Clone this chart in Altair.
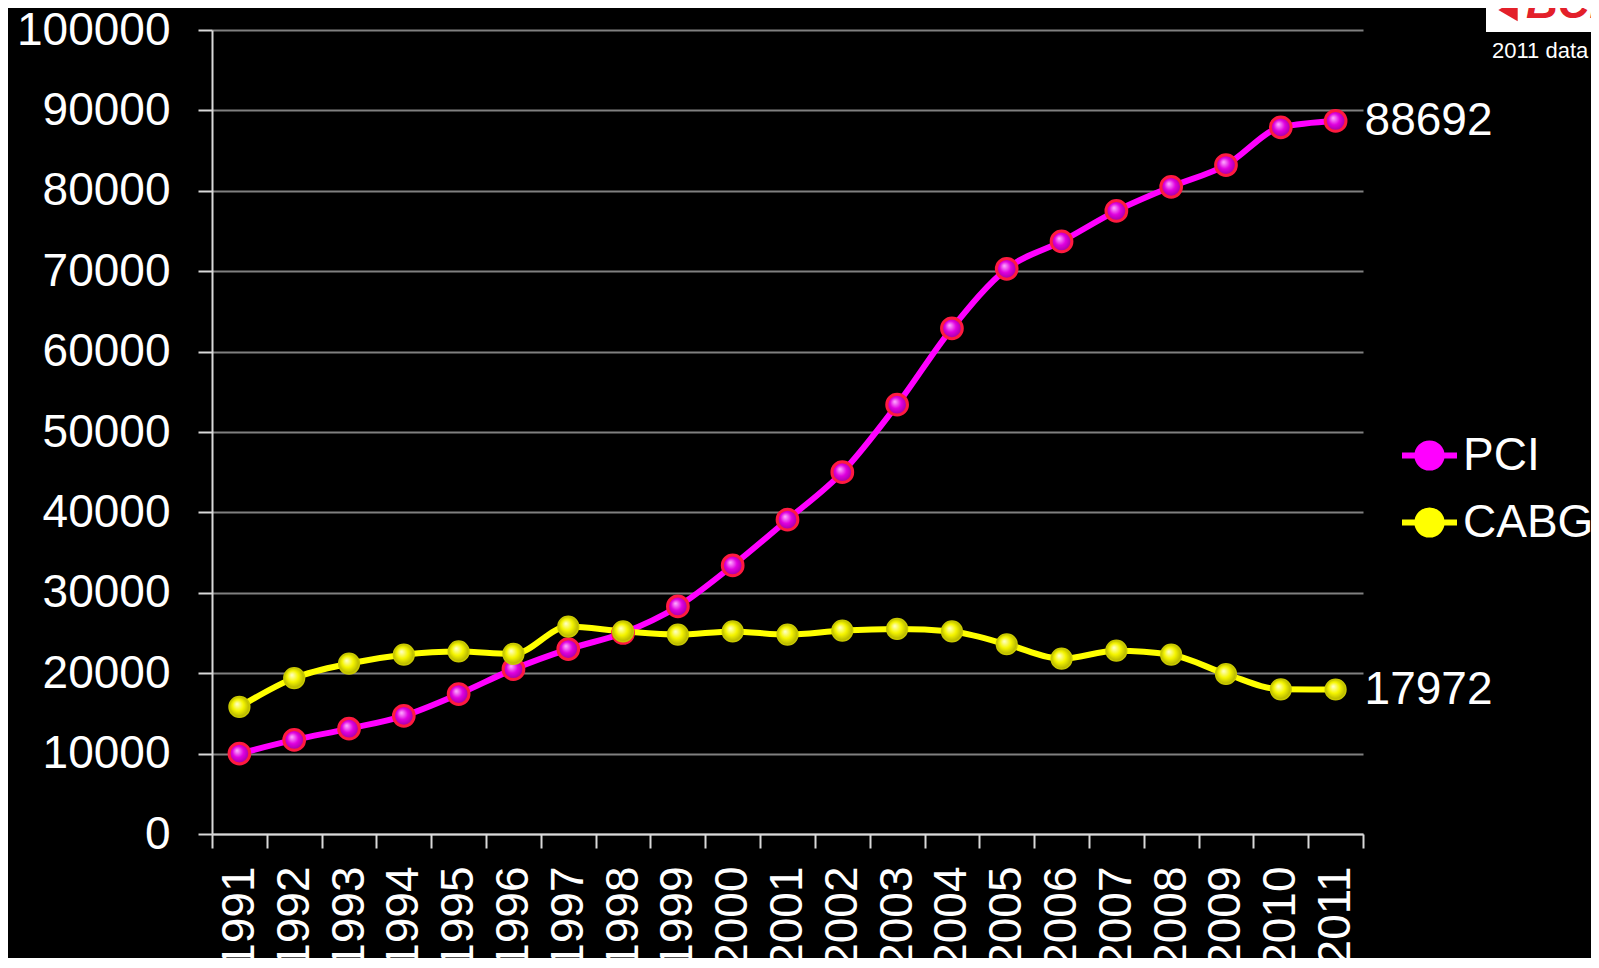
import altair as alt
import pandas as pd

years = [1991, 1992, 1993, 1994, 1995, 1996, 1997, 1998, 1999, 2000, 2001,
         2002, 2003, 2004, 2005, 2006, 2007, 2008, 2009, 2010, 2011]
pci = [10000, 11700, 13100, 14700, 17400, 20500, 23000, 25000, 28300, 33400, 39100,
       45000, 53400, 62900, 70300, 73700, 77500, 80500, 83200, 87900, 88692]
cabg = [15800, 19400, 21200, 22300, 22700, 22400, 25800, 25200, 24800, 25200, 24800,
        25300, 25500, 25200, 23600, 21800, 22800, 22300, 19900, 18000, 17972]
series_names = ["PCI", "CABG"]
series_colors = ["#ff00ff", "#ffff00"]
y_ticks = [0, 10000, 20000, 30000, 40000, 50000, 60000, 70000, 80000, 90000, 100000]
x_tick_values = [y - 0.5 for y in years] + [2011.5] + years

rows = []
for yr, v in zip(years, pci):
    rows.append({"year": yr, "series": "PCI", "value": v})
for yr, v in zip(years, cabg):
    rows.append({"year": yr, "series": "CABG", "value": v})
df = pd.DataFrame(rows)

FONT = "Liberation Sans"

X = alt.X(
    "year:Q",
    title=None,
    scale=alt.Scale(domain=[1990.5, 2011.5], nice=False, zero=False),
    axis=alt.Axis(
        values=x_tick_values,
        labelExpr="datum.value % 1 == 0 ? '' + datum.value : ''",
        tickOpacity={"condition": {"test": "datum.value % 1 == 0", "value": 0}, "value": 1},
        labelAngle=270,
        labelOverlap=False,
        labelFlush=False,
        labelPadding=18,
        grid=False,
    ),
)
Y = alt.Y(
    "value:Q",
    title=None,
    scale=alt.Scale(domain=[0, 100000], nice=False),
    axis=alt.Axis(values=y_ticks, format="d", labelPadding=28, grid=True),
)

color = alt.Color(
    "series:N",
    scale=alt.Scale(domain=series_names, range=series_colors),
    legend=alt.Legend(
        title=None,
        orient="none",
        legendX=1187,
        legendY=395,
        padding=0,
        symbolType="M-1,0L-0.44,0M0.44,0L1,0M0.44,0A0.44,0.44 0 1 1 -0.44,0A0.44,0.44 0 1 1 0.44,0Z",
        symbolSize=3025,
        symbolStrokeWidth=6,
        labelFontSize=46,
        labelFont=FONT,
        labelColor="white",
        labelOffset=3,
        rowPadding=12,
    ),
)

base = alt.Chart(df)

lines = base.mark_line(strokeWidth=6, interpolate="monotone").encode(x=X, y=Y, color=color)
legend_pts = base.mark_point(filled=True, size=420, opacity=1).encode(x=X, y=Y, color=color)


def sphere(name, hi, mid, lo, stroke, sw):
    grad = alt.RadialGradient(
        gradient="radial",
        stops=[
            alt.GradientStop(offset=0, color=hi),
            alt.GradientStop(offset=0.45, color=mid),
            alt.GradientStop(offset=1, color=lo),
        ],
        x1=0.38, y1=0.35, r1=0.0,
        x2=0.5, y2=0.5, r2=0.6,
    )
    return base.transform_filter(alt.datum.series == name).mark_point(
        filled=True, size=430, fill=grad, stroke=stroke, strokeWidth=sw, opacity=1
    ).encode(x=X, y=Y)


pci_pts = sphere("PCI", "#ffb3ff", "#e000e0", "#8a008a", "#ff1a40", 3)
cabg_pts = sphere("CABG", "#ffffd0", "#f5f500", "#9a9a00", "#c8c800", 1.5)

end_labels = base.transform_filter(alt.datum.year == 2011).mark_text(
    align="left", baseline="middle", dx=29, fontSize=46, font=FONT, color="white"
).encode(x=X, y=Y, text=alt.Text("value:Q", format="d"))

one = pd.DataFrame({"a": [0]})
logo_box = alt.Chart(one).mark_rect(color="white").encode(
    x=alt.value(1274), x2=alt.value(1420), y=alt.value(-30), y2=alt.value(2)
)
logo_tri = alt.Chart(one).mark_point(shape="triangle-left", filled=True, size=500, color="#e3202a", opacity=1).encode(
    x=alt.value(1296), y=alt.value(-20)
)
logo_text = alt.Chart(one).mark_text(
    align="left", baseline="alphabetic", fontSize=44, fontStyle="italic", fontWeight="bold",
    font=FONT, color="#e3202a"
).encode(x=alt.value(1314), y=alt.value(-12), text=alt.value("BCIS"))
data_note = alt.Chart(one).mark_text(
    align="left", baseline="alphabetic", fontSize=22, font=FONT, color="white"
).encode(x=alt.value(1280), y=alt.value(28), text=alt.value("2011 data"))

chart = alt.layer(
    lines, legend_pts, pci_pts, cabg_pts, end_labels, logo_box, logo_tri, logo_text, data_note
).properties(
    width=1151, height=804,
    background="black",
    autosize=alt.AutoSizeParams(type="none"),
    padding={"left": 204, "top": 22, "right": 228, "bottom": 124},
).configure_view(stroke=None).configure_axis(
    domainColor="#d9d9d9",
    domainWidth=2,
    tickColor="#d9d9d9",
    tickWidth=2,
    tickSize=14,
    gridColor="#808080",
    gridWidth=2,
    labelColor="white",
    labelFont=FONT,
    labelFontSize=46,
)

chart.save("out.html", embed_options={"renderer": "svg", "actions": False})
